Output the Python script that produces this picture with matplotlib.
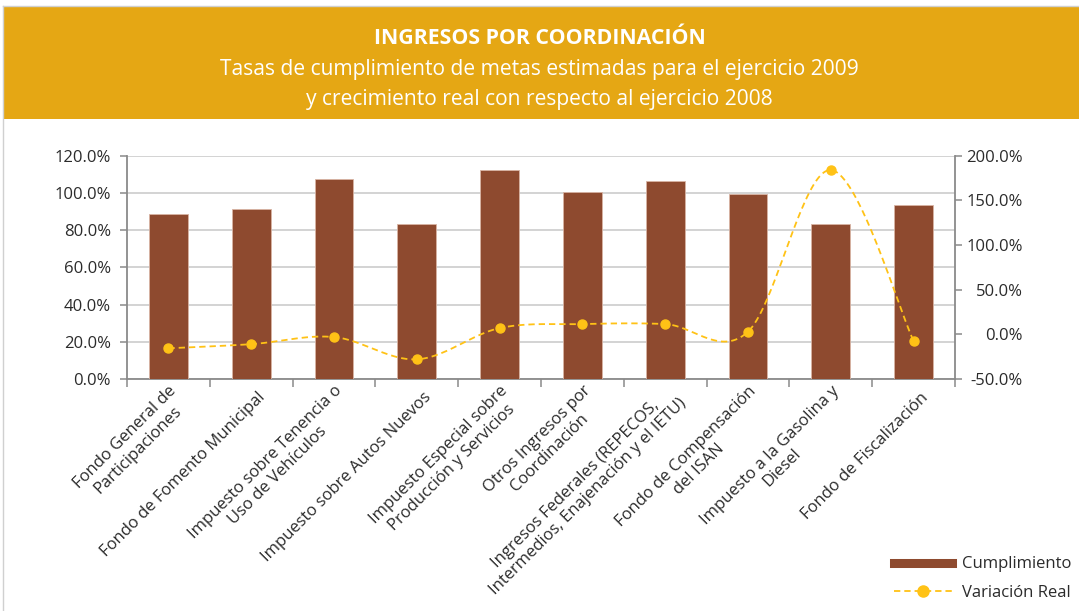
import numpy as np
import matplotlib
matplotlib.use("Agg")
import matplotlib.pyplot as plt
from matplotlib.patches import Rectangle
from matplotlib.lines import Line2D
from matplotlib.transforms import ScaledTranslation
from matplotlib.ticker import FuncFormatter, FixedLocator

plt.rcParams['font.family'] = ['Open Sans', 'DejaVu Sans']

categories = [
    "Fondo General de\nParticipaciones",
    "Fondo de Fomento Municipal",
    "Impuesto sobre Tenencia o\nUso de Vehículos",
    "Impuesto sobre Autos Nuevos",
    "Impuesto Especial sobre\nProducción y Servicios",
    "Otros Ingresos por\nCoordinación",
    "Ingresos Federales (REPECOS,\nIntermedios, Enajenación y el IETU)",
    "Fondo de Compensación\ndel ISAN",
    "Impuesto a la Gasolina y\nDiesel",
    "Fondo de Fiscalización",
]
cumplimiento = [88.5, 91.5, 107.5, 83.5, 112.5, 100.5, 106.5, 99.5, 83.5, 93.5]
variacion_real = [-15.6, -11.0, -3.0, -28.0, 7.0, 11.5, 11.5, 3.0, 184.0, -7.5]

title = "INGRESOS POR COORDINACIÓN"
subtitle = "Tasas de cumplimiento de metas estimadas para el ejercicio 2009\ny crecimiento real con respecto al ejercicio 2008"

BAR = '#8E4A2F'
GOLD = '#FFC216'
BAND = '#E5A714'
GRID = '#C8C8C8'
AXC = '#8A8A8A'
TXT = '#2B2B2B'

W, H = 1079, 611
fig = plt.figure(figsize=(W / 100, H / 100), dpi=100)

# header band and frame
fig.patches.append(Rectangle((3 / W, 1 - 119 / H), 1, 112 / H, transform=fig.transFigure,
                             facecolor=BAND, edgecolor='none', zorder=0))
fig.add_artist(Line2D([3 / W, 3 / W], [0, 1 - 6 / H], transform=fig.transFigure, color='#D0D0D0', lw=1))
fig.add_artist(Line2D([3 / W, 1], [1 - 6 / H, 1 - 6 / H], transform=fig.transFigure, color='#D0D0D0', lw=1))
fig.text(0.5, 1 - 38 / H, title, ha='center', va='center', color='white',
         fontsize=15.3, fontweight='bold')
fig.text(0.5, 1 - 84.5 / H, subtitle, ha='center', va='center', color='white',
         fontsize=15.1, linespacing=1.5)

ax = fig.add_axes([127 / W, 1 - 379 / H, (955 - 127) / W, (379 - 155.7) / H])
x = np.arange(len(categories))
ax.bar(x, cumplimiento, width=0.47, color=BAR, edgecolor='#D8B4A4', linewidth=0.6, zorder=3)
ax.set_xlim(-0.5, len(categories) - 0.5)
ax.set_ylim(0, 120)
ax.set_yticks(np.arange(0, 121, 20))
ax.yaxis.set_major_formatter(FuncFormatter(lambda v, p: f"{v:.1f}%"))
ax.grid(axis='y', color=GRID, lw=1.1, zorder=0)
ax.set_axisbelow(True)
for s in ['top', 'right']:
    ax.spines[s].set_visible(False)
for s in ['left', 'bottom']:
    ax.spines[s].set_color(AXC)
    ax.spines[s].set_linewidth(1.3)
ax.tick_params(axis='y', length=5, width=1.1, color=AXC, pad=6.5, labelsize=12, labelcolor=TXT)

# x ticks: boundaries as minor ticks, labels at centers
ax.set_xticks(x)
ax.set_xticklabels(categories)
ax.xaxis.set_minor_locator(FixedLocator(np.arange(-0.5, len(categories), 1.0)))
ax.tick_params(axis='x', which='major', length=0, pad=11.5, labelsize=12, labelcolor=TXT)
ax.tick_params(axis='x', which='minor', length=6, width=1.1, color=AXC)
off = ScaledTranslation(12 / 100, 0, fig.dpi_scale_trans)
for lab in ax.get_xticklabels():
    lab.set_rotation(45)
    lab.set_ha('right')
    lab.set_va('center')
    lab.set_rotation_mode('anchor')
    lab.set_multialignment('center')
    lab.set_linespacing(1.15)
    lab.set_transform(lab.get_transform() + off)

# secondary axis with smoothed line
ax2 = ax.twinx()
ax2.set_ylim(-50, 200)
ax2.set_yticks(np.arange(-50, 201, 50))
ax2.yaxis.set_major_formatter(FuncFormatter(lambda v, p: f"{v:.1f}%"))
for s in ['top', 'left', 'bottom']:
    ax2.spines[s].set_visible(False)
ax2.spines['right'].set_color(AXC)
ax2.spines['right'].set_linewidth(1.3)
ax2.tick_params(axis='y', length=5, width=1.1, color=AXC, pad=44, labelsize=12, labelcolor=TXT)
for lab in ax2.get_yticklabels():
    lab.set_ha('right')

# Catmull-Rom smoothing (Excel-like smoothed line)
P = np.array(variacion_real, dtype=float)
X = x.astype(float)
xs, ys = [], []
n = len(P)
for i in range(n - 1):
    p0 = P[i - 1] if i > 0 else P[i]
    x0 = X[i - 1] if i > 0 else X[i]
    p3 = P[i + 2] if i + 2 < n else P[i + 1]
    x3 = X[i + 2] if i + 2 < n else X[i + 1]
    p1, p2 = P[i], P[i + 1]
    x1, x2 = X[i], X[i + 1]
    t = np.linspace(0, 1, 40)
    cy1 = p1 + (p2 - p0) / 6
    cy2 = p2 - (p3 - p1) / 6
    cx1 = x1 + (x2 - x0) / 6
    cx2 = x2 - (x3 - x1) / 6
    bx = (1 - t) ** 3 * x1 + 3 * (1 - t) ** 2 * t * cx1 + 3 * (1 - t) * t ** 2 * cx2 + t ** 3 * x2
    by = (1 - t) ** 3 * p1 + 3 * (1 - t) ** 2 * t * cy1 + 3 * (1 - t) * t ** 2 * cy2 + t ** 3 * p2
    xs.extend(bx)
    ys.extend(by)
ax2.plot(xs, ys, color=GOLD, lw=1.3, dashes=(3.5, 2.2), zorder=4)
ax2.plot(X, P, 'o', color=GOLD, markersize=6.5, zorder=5)

handles = [Line2D([], [], color=BAR, lw=6.5),
           Line2D([], [], color=GOLD, lw=1.3, dashes=(3.5, 2.2), marker='o', markersize=8)]
fig.legend(handles, ['Cumplimiento', 'Variación Real'], loc='lower right',
           bbox_to_anchor=(1 + 7 / W, -5 / H), frameon=False, fontsize=12,
           handlelength=3.5, handletextpad=0.55, labelspacing=0.75, labelcolor=TXT)

fig.savefig('out.png', dpi=100)
